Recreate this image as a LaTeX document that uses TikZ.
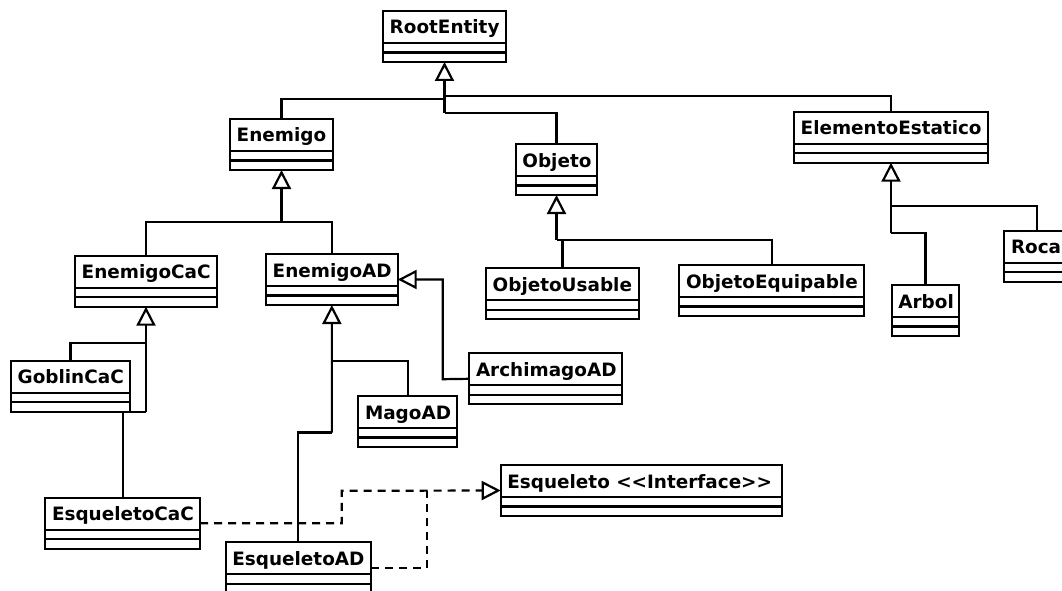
\documentclass[tikz,border=0pt]{standalone}
\usepackage{fontspec}
\setmainfont{DejaVu Sans}
\usetikzlibrary{arrows.meta}

% one UML class: name, left x, top y, width, label
\newcommand\umlclass[5]{%
  \node[clsbox, minimum width=#4pt] (#1) at (#2,#3) {};
  \node[clstext] (#1-name) at ([xshift=6.5pt,yshift=-23pt]#1.north west) {#5};
  \draw[clsline] ([yshift=-32pt]#1.north west) -- ([yshift=-32pt]#1.north east);
  \draw[clsline] ([yshift=-41.5pt]#1.north west) -- ([yshift=-41.5pt]#1.north east);
}

\tikzset{
  clsbox/.style={draw, line width=2.2pt, fill=white, anchor=north west,
    minimum height=51pt, inner sep=0pt, outer sep=0pt},
  clstext/.style={anchor=base west, inner sep=0pt,
    font=\bfseries\fontsize{18.4}{21}\selectfont},
  clsline/.style={line width=2.2pt},
  conn/.style={line width=2.2pt},
  inh/.style={conn, -{Triangle[open, length=19pt, width=19pt]}},
  real/.style={conn, dash pattern=on 8pt off 6pt},
  realtip/.style={real, -{Triangle[open, length=19pt, width=19pt]}},
}

\begin{document}
\begin{tikzpicture}[x=1pt, y=-1pt]
\clip (0,0) rectangle (1062,591);
\fill[white] (0,0) rectangle (1062,591);

% classes
\umlclass{root}{383}{11}{123}{RootEntity}
\umlclass{enemigo}{230}{119}{103}{Enemigo}
\umlclass{objeto}{515.7}{144}{81.6}{Objeto}
\umlclass{elem}{794}{111.7}{194}{ElementoEstatico}
\umlclass{ecac}{75}{255.7}{142}{EnemigoCaC}
\umlclass{ead}{266}{254}{131.7}{EnemigoAD}
\umlclass{ousable}{486}{268.3}{153}{ObjetoUsable}
\umlclass{oequip}{679.3}{265}{185}{ObjetoEquipable}
\umlclass{arbol}{891.7}{285}{67.6}{Arbol}
\umlclass{roca}{1004.3}{230.7}{65}{Roca}
\umlclass{goblin}{11}{360.7}{119}{GoblinCaC}
\umlclass{archi}{469.3}{353.3}{153}{ArchimagoAD}
\umlclass{mago}{358.3}{396}{99}{MagoAD}
\umlclass{esqcac}{45.3}{497.7}{154.7}{EsqueletoCaC}
\umlclass{esqad}{225.7}{542.3}{145.3}{EsqueletoAD}
\umlclass{iface}{500.7}{465}{281}{Esqueleto {<}{<}Interface{>}{>}}

% junctions of the generalization trees
\coordinate (rj1) at (444.5,99);
\coordinate (rj2) at (444.5,96);
\coordinate (rj3) at (444.5,113);
\coordinate (ej) at (281.5,221.7);
\coordinate (cj1) at (146,342.7);
\coordinate (cj2) at (146,411.7);
\coordinate (aj1) at (331.85,360.7);
\coordinate (aj2) at (331.85,432.5);
\coordinate (xj) at (442.7,379.2);
\coordinate (oj) at (556.5,240);
\coordinate (sj1) at (891,206);
\coordinate (sj2) at (891,233.3);
\coordinate (ij1) at (341.7,490.8);
\coordinate (ij2) at (426.7,490.8);

% RootEntity
\draw[inh] (rj3) -- (root.south);
\draw[conn] (enemigo.north) |- (rj1);
\draw[conn] (elem.north) |- (rj2);
\draw[conn] (objeto.north) |- (rj3);

% Enemigo
\draw[inh] (ej) -- (enemigo.south);
\draw[conn] (ecac.north) |- (ej);
\draw[conn] (ead.north) |- (ej);

% EnemigoCaC
\draw[inh] (cj2) -- (ecac.south);
\draw[conn] (goblin.north) |- (cj1);
\draw[conn] (esqcac.north) |- (cj2);

% EnemigoAD
\draw[inh] (aj2) -- (ead.south);
\draw[conn] (mago.north) |- (aj1);
\draw[conn] (esqad.north) |- (aj2);
\draw[inh] (archi.west) -- (xj) |- (ead.east);

% Objeto
\draw[inh] (oj) -- (objeto.south);
\draw[conn] (ousable.north) |- (oj);
\draw[conn] (oequip.north) |- (oj);

% ElementoEstatico
\draw[inh] (sj2) -- (elem.south);
\draw[conn] (roca.north) |- (sj1);
\draw[conn] (arbol.north) |- (sj2);

% Esqueleto interface realizations
\draw[realtip] (esqcac.east) -| (ij1) -- (iface.west);
\draw[real] (esqad.east) -| (ij2);
\end{tikzpicture}
\end{document}
